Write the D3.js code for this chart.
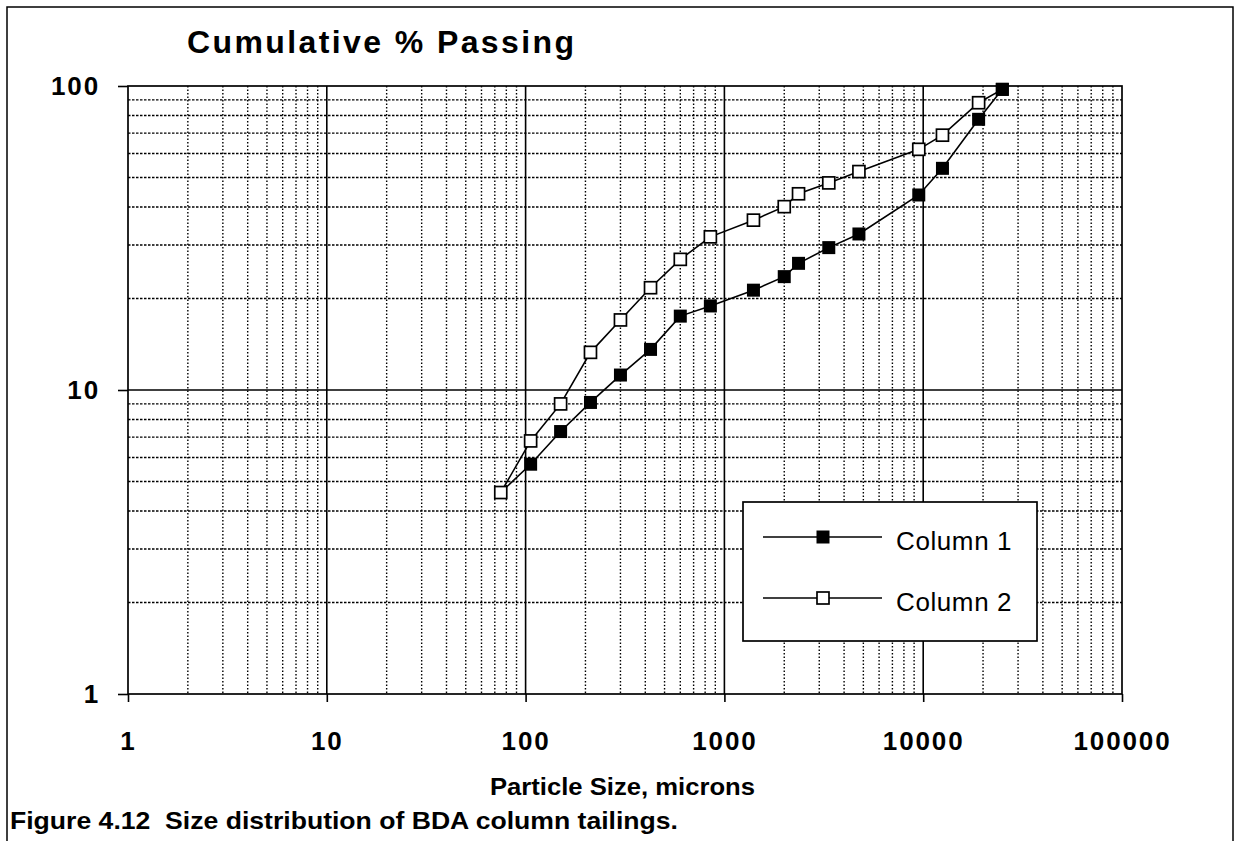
<!DOCTYPE html>
<html>
<head>
<meta charset="utf-8">
<script src="https://cdn.jsdelivr.net/npm/d3@7"></script>
<style>
  html, body { margin: 0; padding: 0; background: #fff; }
  svg { display: block; font-family: "Liberation Sans", Arial, Helvetica, sans-serif; }
  text { white-space: pre; }
</style>
</head>
<body>
<svg id="chart" width="1235" height="841"></svg>
<script>
// ---- data ----
const sizes   = [75, 106, 150, 212, 300, 425, 600, 850, 1400, 2000, 2360, 3350, 4750, 9500, 12500, 19000, 25000];
const column1 = [4.6, 5.7, 7.3, 9.1, 11.2, 13.6, 17.5, 18.9, 21.3, 23.6, 26.1, 29.4, 32.6, 43.8, 53.6, 77.7, 97.5];
const column2 = [4.6, 6.8, 9.0, 13.3, 17.0, 21.7, 26.9, 31.9, 36.2, 40.1, 44.2, 48.0, 52.3, 61.9, 68.9, 88.1, 97.5];
const seriesNames = ["Column 1", "Column 2"];
const xTickValues = [1, 10, 100, 1000, 10000, 100000];
const yTickValues = [1, 10, 100];
const titleText = "Cumulative % Passing";
const xAxisTitle = "Particle Size, microns";
const captionText = "Figure 4.12  Size distribution of BDA column tailings.";

const svg = d3.select("#chart");
const L = 128, R = 1122, T = 86, B = 694;

const x = d3.scaleLog().domain([1, 100000]).range([L, R]);
const y = d3.scaleLog().domain([1, 100]).range([B, T]);

// outer frame
svg.append("path")
  .attr("d", `M7,841 L7,7 L1233,7 L1233,841`)
  .attr("fill", "none").attr("stroke", "#000").attr("stroke-width", 1.5);

// minor grid
const minorX = [];
for (let d = 1; d < 100000; d *= 10) for (let k = 2; k <= 9; k++) minorX.push(d * k);
const minorY = [];
for (let d = 1; d < 100; d *= 10) for (let k = 2; k <= 9; k++) minorY.push(d * k);

const g = svg.append("g");
g.selectAll(".mx").data(minorX).join("line")
  .attr("x1", d => x(d)).attr("x2", d => x(d)).attr("y1", T).attr("y2", B)
  .attr("stroke", "#000").attr("stroke-width", 1.4).attr("stroke-dasharray", "1.5,2");
g.selectAll(".my").data(minorY).join("line")
  .attr("x1", L).attr("x2", R).attr("y1", d => y(d)).attr("y2", d => y(d))
  .attr("stroke", "#000").attr("stroke-width", 1.4).attr("stroke-dasharray", "2.5,1.5");

// major grid
g.selectAll(".MX").data(xTickValues.slice(1, -1)).join("line")
  .attr("x1", d => x(d)).attr("x2", d => x(d)).attr("y1", T).attr("y2", B)
  .attr("stroke", "#000").attr("stroke-width", 1.6);
g.selectAll(".MY").data([10]).join("line")
  .attr("x1", L).attr("x2", R).attr("y1", d => y(d)).attr("y2", d => y(d))
  .attr("stroke", "#000").attr("stroke-width", 1.6);

// plot border
g.append("rect").attr("x", L).attr("y", T).attr("width", R - L).attr("height", B - T)
  .attr("fill", "none").attr("stroke", "#000").attr("stroke-width", 1.7);

// axes
const xAxis = d3.axisBottom(x).tickValues(xTickValues).tickSize(8).tickPadding(30)
  .tickFormat(d3.format("d"));
const gx = svg.append("g").attr("transform", `translate(0,${B})`).call(xAxis);
gx.select(".domain").remove();
gx.selectAll(".tick line").attr("stroke", "#000").attr("stroke-width", 1.6);
gx.selectAll(".tick text").attr("font-size", 26).attr("font-weight", "bold")
  .attr("fill", "#000").attr("letter-spacing", 1.9).attr("font-family", "Liberation Sans, Arial, sans-serif");

const yAxis = d3.axisLeft(y).tickValues(yTickValues).tickSize(10).tickPadding(18)
  .tickFormat(d3.format("d"));
const gy = svg.append("g").attr("transform", `translate(${L},0)`).call(yAxis);
gy.select(".domain").remove();
gy.selectAll(".tick line").attr("stroke", "#000").attr("stroke-width", 1.6);
gy.selectAll(".tick text").attr("font-size", 26).attr("font-weight", "bold")
  .attr("fill", "#000").attr("letter-spacing", 1.9).attr("font-family", "Liberation Sans, Arial, sans-serif");

// series
const data1 = sizes.map((s, i) => ({ x: s, y: column1[i] }));
const data2 = sizes.map((s, i) => ({ x: s, y: column2[i] }));
const line = d3.line().x(d => x(d.x)).y(d => y(d.y));
const MS = 13;

[data1, data2].forEach(dd => {
  svg.append("path").datum(dd).attr("d", line)
    .attr("fill", "none").attr("stroke", "#000").attr("stroke-width", 1.6);
});
// Column 1 markers (filled)
svg.append("g").selectAll("rect").data(data1.slice(1)).join("rect")
  .attr("x", d => x(d.x) - MS / 2).attr("y", d => y(d.y) - MS / 2)
  .attr("width", MS).attr("height", MS).attr("fill", "#000");
// Column 2 markers (open)
svg.append("g").selectAll("rect").data(data2.slice(0, -1)).join("rect")
  .attr("x", d => x(d.x) - MS / 2 + 0.5).attr("y", d => y(d.y) - MS / 2 + 0.5)
  .attr("width", MS - 1).attr("height", MS - 1).attr("fill", "#fff")
  .attr("stroke", "#000").attr("stroke-width", 1.7);
// shared last point drawn filled on top
svg.append("rect").datum(data1[data1.length - 1])
  .attr("x", d => x(d.x) - MS / 2).attr("y", d => y(d.y) - MS / 2)
  .attr("width", MS).attr("height", MS).attr("fill", "#000");

// legend
const lg = svg.append("g");
lg.append("rect").attr("x", 743).attr("y", 502).attr("width", 294).attr("height", 139)
  .attr("fill", "#fff").attr("stroke", "#000").attr("stroke-width", 1.7);
seriesNames.forEach((name, i) => {
  const ly = 537 + i * 61;
  lg.append("line").attr("x1", 763).attr("x2", 882).attr("y1", ly).attr("y2", ly)
    .attr("stroke", "#000").attr("stroke-width", 1.4);
  if (i === 0) {
    lg.append("rect").attr("x", 823 - 6.5).attr("y", ly - 6.5).attr("width", 13).attr("height", 13).attr("fill", "#000");
  } else {
    lg.append("rect").attr("x", 823 - 6).attr("y", ly - 6).attr("width", 12).attr("height", 12)
      .attr("fill", "#fff").attr("stroke", "#000").attr("stroke-width", 1.7);
  }
  lg.append("text").attr("x", 896).attr("y", ly + 13).text(name)
    .attr("font-size", 26).attr("fill", "#000").attr("letter-spacing", 0.6);
});

// texts
svg.append("text").attr("x", 187).attr("y", 53).text(titleText)
  .attr("font-size", 32).attr("font-weight", "bold").attr("fill", "#000")
  .attr("letter-spacing", 2.4);
svg.append("text").attr("x", 490).attr("y", 795).text(xAxisTitle)
  .attr("font-size", 23).attr("font-weight", "bold").attr("fill", "#000")
  .attr("textLength", 265).attr("lengthAdjust", "spacingAndGlyphs");
svg.append("text").attr("x", 10).attr("y", 829).text(captionText)
  .attr("font-size", 24).attr("font-weight", "bold").attr("fill", "#000")
  .attr("textLength", 668).attr("lengthAdjust", "spacingAndGlyphs");
</script>
</body>
</html>
